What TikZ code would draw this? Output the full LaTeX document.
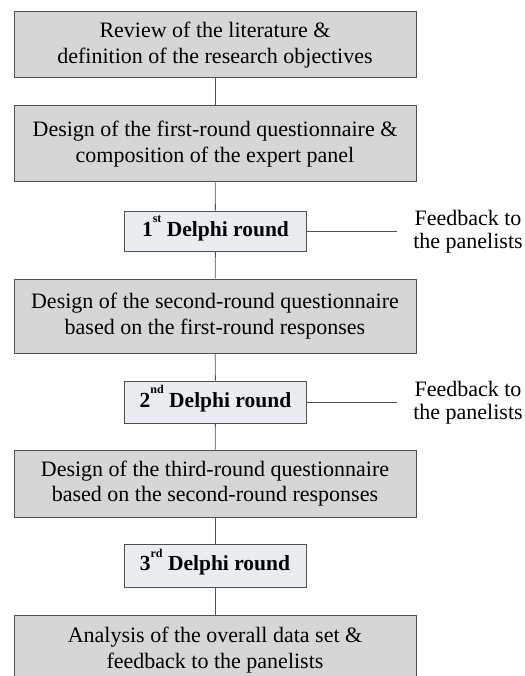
\documentclass[tikz,border=0pt]{standalone}
\usepackage{fontspec}
\setmainfont{Liberation Serif}
\definecolor{boxgray}{HTML}{D6D6D6}
\definecolor{delphi}{HTML}{E9ECF0}
\definecolor{edge}{HTML}{505050}
\newcommand{\ordsup}[1]{\smash{\raisebox{0.62em}{\fontsize{12}{12}\selectfont #1}}}
\begin{document}
\begin{tikzpicture}[x=1pt,y=-1pt,
  bigbox/.style={draw=edge,line width=1pt,fill=boxgray,minimum width=402pt,align=center,
    font=\fontsize{22}{25.5}\selectfont,inner sep=0pt},
  roundbox/.style={draw=edge,line width=1pt,fill=delphi,minimum width=182pt,align=center,
    font=\fontsize{21.5}{25}\selectfont\bfseries,inner sep=0pt},
  link/.style={draw=edge,line width=0.8pt},
  fb/.style={align=center,font=\fontsize{22}{23}\selectfont,inner sep=0pt}]
\useasboundingbox (0,0) rectangle (524,676);
\clip (0,0) rectangle (524,676);
\node[bigbox,minimum height=66pt] (b1) at (215,45) {Review of the literature \&\\definition of the research objectives};
\node[bigbox,minimum height=76pt] (b2) at (215,144) {Design of the first-round questionnaire \&\\composition of the expert panel};
\node[roundbox,minimum height=40pt] (d1) at (215.5,231) {1\ordsup{st} Delphi round};
\node[bigbox,minimum height=74pt] (b3) at (215,316) {Design of the second-round questionnaire\\based on the first-round responses};
\node[roundbox,minimum height=42pt] (d2) at (215.5,402) {2\ordsup{nd} Delphi round};
\node[bigbox,minimum height=67pt] (b4) at (215,483.5) {Design of the third-round questionnaire\\based on the second-round responses};
\node[roundbox,minimum height=43pt] (d3) at (215,565.5) {3\ordsup{rd} Delphi round};
\node[bigbox,minimum height=70pt] (b5) at (215,650) {Analysis of the overall data set \&\\feedback to the panelists};
\coordinate (f1) at (397,231);
\coordinate (f2) at (397,402);
\node[fb] (t1) at (468,232) {Feedback to\\the panelists};
\node[fb] (t2) at (468,403) {Feedback to\\the panelists};
\draw[link] (b1) -- (b2);
\draw[link] (b2) -- (d1);
\draw[link] (d1) -- (b3);
\draw[link] (b3) -- (d2);
\draw[link] (d2) -- (b4);
\draw[link] (b4) -- (d3);
\draw[link] (d3) -- (b5);
\draw[link] (d1.east) -- (f1);
\draw[link] (d2.east) -- (f2);
\end{tikzpicture}
\end{document}
